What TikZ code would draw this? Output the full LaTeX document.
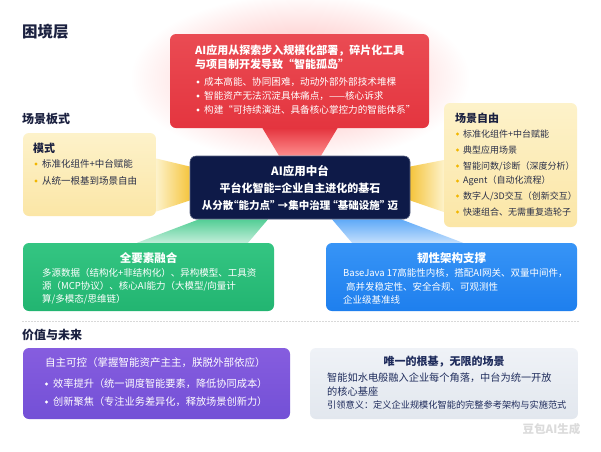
\documentclass[tikz,border=0pt]{standalone}
\usepackage{fontspec}
\setmainfont{Noto Sans CJK SC}
\usetikzlibrary{calc,backgrounds}
\newcommand\myfs[1]{\fontsize{#1}{#1}\selectfont}
\definecolor{navy}{HTML}{0E1A48}
\definecolor{headc}{HTML}{1B2140}
\definecolor{redA}{HTML}{EA4B53}
\definecolor{redB}{HTML}{E4353F}
\definecolor{yelA}{HTML}{FDF2CA}
\definecolor{yelB}{HTML}{FBE6A6}
\definecolor{gold}{HTML}{F2B600}
\definecolor{beamY}{HTML}{F5C53E}
\definecolor{greenA}{HTML}{34C582}
\definecolor{greenB}{HTML}{22B571}
\definecolor{blueA}{HTML}{3794F6}
\definecolor{blueB}{HTML}{1E7FEE}
\definecolor{purA}{HTML}{865DDF}
\definecolor{purB}{HTML}{7350D6}
\definecolor{grayA}{HTML}{EFF2F7}
\definecolor{grayB}{HTML}{E2E7EE}
\definecolor{grayT}{HTML}{1F2C5C}
\definecolor{ytext}{HTML}{2A2F48}
\tikzset{
  box/.style={rectangle, rounded corners=6pt, inner sep=0pt, draw=none},
  tx/.style={inner sep=0pt, anchor=west},
  tc/.style={inner sep=0pt, anchor=center},
  sec/.style={inner sep=0pt, anchor=west, text=headc, font=\myfs{12}\bfseries},
  dotw/.style={fill=white},
  doty/.style={fill=gold},
}
\begin{document}
\begin{tikzpicture}[x=1pt,y=-1pt]
\useasboundingbox (0,0) rectangle (601,451);

% section headings
\node[sec, font=\myfs{15.5}\bfseries] (h1) at (22,32) {困境层};
\node[sec] (h2) at (22,119) {场景板式};
\node[sec] (h3) at (22,335) {价值与未来};

% boxes
\node[box, minimum width=259, minimum height=94, top color=redA, bottom color=redB] (red) at (299.5,81) {};
\node[box, minimum width=220, minimum height=63, fill=navy, draw=navy!70!white, line width=0.6pt] (hub) at (300,187.5) {};
\node[box, minimum width=133, minimum height=83, top color=yelA, bottom color=yelB] (ly) at (89.5,174.5) {};
\node[box, minimum width=133, minimum height=124, top color=yelA, bottom color=yelB] (ry) at (510.5,165) {};
\node[box, minimum width=251, minimum height=68, top color=greenA, bottom color=greenB] (gb) at (148.5,277) {};
\node[box, minimum width=251, minimum height=68, top color=blueA, bottom color=blueB] (bb) at (451.5,277) {};
\node[box, minimum width=267, minimum height=71, top color=purA, bottom color=purB] (pb) at (156.5,383.5) {};
\node[box, minimum width=268, minimum height=71, top color=grayA, bottom color=grayB] (gyb) at (444,383.5) {};

% background: halo and beams
\begin{scope}[on background layer]
  \fill[white] (0,0) rectangle (601,451);
  \shade[inner color=red!32, outer color=white] (300,78) ellipse (170 and 84);
  \shade[top color=redB, bottom color=red!45] ($(red.south)+(-37,0)$) -- ($(red.south)+(38,0)$) -- ($(hub.north)+(21,0)$) -- ($(hub.north)+(-21,0)$) -- cycle;
  \shade[left color=yelA, right color=beamY] ($(ly.east)+(0,-16)$) -- ($(hub.west)+(0,-21)$) -- ($(hub.west)+(0,13)$) -- ($(ly.east)+(0,37)$) -- cycle;
  \shade[left color=beamY, right color=yelA] ($(hub.east)+(0,-21)$) -- ($(ry.west)+(0,-5)$) -- ($(ry.west)+(0,47)$) -- ($(hub.east)+(0,13)$) -- cycle;
  \shade[top color=greenA!85, bottom color=greenA!30] ($(hub.south)+(-101,0)$) -- ($(hub.south)+(-32,0)$) -- ($(gb.north)+(99.5,0)$) -- ($(gb.north)+(-11.5,0)$) -- cycle;
  \shade[top color=blueA!80, bottom color=blueA!30] ($(hub.south)+(32,0)$) -- ($(hub.south)+(101,0)$) -- ($(bb.north)+(11.5,0)$) -- ($(bb.north)+(-99.5,0)$) -- cycle;
\end{scope}

% red box text
\node[tx, text=white, font=\myfs{11}\bfseries] (r1) at (195,51) {AI应用从探索步入规模化部署，碎片化工具};
\node[tx, text=white, font=\myfs{11}\bfseries] (r2) at (195,64) {与项目制开发导致“智能孤岛”};
\fill[dotw] (198,82) circle (1.6);
\fill[dotw] (198,96) circle (1.6);
\fill[dotw] (198,110) circle (1.6);
\node[tx, text=white, font=\myfs{9.6}] (r3) at (204,82) {成本高能、协同困难，动动外部外部技术堆棵};
\node[tx, text=white, font=\myfs{9.6}] (r4) at (204,96) {智能资产无法沉淀具体痛点，——核心诉求};
\node[tx, text=white, font=\myfs{9.6}] (r5) at (204,110) {构建“可持续演进、具备核心掌控力的智能体系”};

% hub text
\node[tc, text=white, font=\myfs{11.5}\bfseries] (c1) at (300,171) {AI应用中台};
\node[tc, text=white, font=\myfs{11}\bfseries] (c2) at (300,188) {平台化智能=企业自主进化的基石};
\node[tc, text=white, font=\myfs{10.5}\bfseries\addfontfeatures{RawFeature=+halt}] (c3) at (300,205) {从分散“能力点” →集中治理 “基础设施” 迈};

% left yellow
\node[tx, text=headc, font=\myfs{11}\bfseries] (l0) at (33,148) {模式};
\fill[doty] (36,164) circle (1.6);
\fill[doty] (36,181) circle (1.6);
\node[tx, text=ytext, font=\myfs{9.5}] (l1) at (42,164) {标准化组件+中台赋能};
\node[tx, text=ytext, font=\myfs{9.5}] (l2) at (42,181) {从统一根基到场景自由};

% right yellow
\node[tx, text=headc, font=\myfs{11}\bfseries] (q0) at (455,118) {场景自由};
\foreach \yy in {134,150,166,181,196,212} { \fill[doty] (457.5,\yy) circle (1.6); }
\begin{scope}[every node/.style={tx, text=ytext, font=\myfs{9}}]
\node (q1) at (463,134) {标准化组件+中台赋能};
\node (q2) at (463,150) {典型应用场景};
\node (q3) at (463,166) {智能问数/诊断（深度分析）};
\node (q4) at (463,181) {Agent（自动化流程）};
\node (q5) at (463,196) {数字人/3D交互（创新交互）};
\node (q6) at (463,212) {快速组合、无需重复造轮子};
\end{scope}

% green
\node[tc, text=white, font=\myfs{11.5}\bfseries] (g0) at (148.5,258) {全要素融合};
\node[tx, text=white, font=\myfs{9.5}] (g1) at (42,273) {多源数据（结构化+非结构化）、异构模型、工具资};
\node[tx, text=white, font=\myfs{9.5}] (g2) at (42,286.5) {源（MCP协议）、核心AI能力（大模型/向量计};
\node[tx, text=white, font=\myfs{9.5}] (g3) at (42,299.5) {算/多模态/思维链）};

% blue
\node[tc, text=white, font=\myfs{11.5}\bfseries] (b0) at (451.5,258) {韧性架构支撑};
\node[tx, text=white, font=\myfs{9.5}] (b1) at (343,273) {BaseJava 17高能性内核，搭配AI网关、双量中间件，};
\node[tx, text=white, font=\myfs{9.5}] (b2) at (346,286.5) {高并发稳定性、安全合规、可观测性};
\node[tx, text=white, font=\myfs{9.5}] (b3) at (343,299.5) {企业级基准线};

% separator
\coordinate (sepL) at (22,321);
\coordinate (sepR) at (579,321);
\draw[black!15, line width=0.8pt, dash pattern=on 1.5pt off 1.5pt] (sepL) -- (sepR);

% purple
\node[tx, text=white, font=\myfs{10.5}] (p0) at (45,363) {自主可控（掌握智能资产主主，朕脱外部依应）};
\fill[dotw] (46.5,384) circle (1.6);
\fill[dotw] (46.5,402) circle (1.6);
\node[tx, text=white, font=\myfs{10.2}] (p1) at (53,384) {效率提升（统一调度智能要素，降低协同成本）};
\node[tx, text=white, font=\myfs{10.2}] (p2) at (53,402) {创新聚焦（专注业务差异化，释放场景创新力）};

% gray
\node[tc, text=grayT, font=\myfs{11}\bfseries] (s0) at (444,362) {唯一的根基，无限的场景};
\node[tx, text=grayT, font=\myfs{10.2}] (s1) at (327,378) {智能如水电般融入企业每个角落，中台为统一开放};
\node[tx, text=grayT, font=\myfs{10.2}] (s2) at (327,392) {的核心基座};
\node[tx, text=grayT, font=\myfs{9.2}] (s3) at (327,405) {引领意义：定义企业规模化智能的完整参考架构与实施范式};

% watermark
\node[tc, text=black!14, font=\myfs{11.5}\bfseries] (wm) at (551.5,429.5) {豆包AI生成};
\end{tikzpicture}
\end{document}
